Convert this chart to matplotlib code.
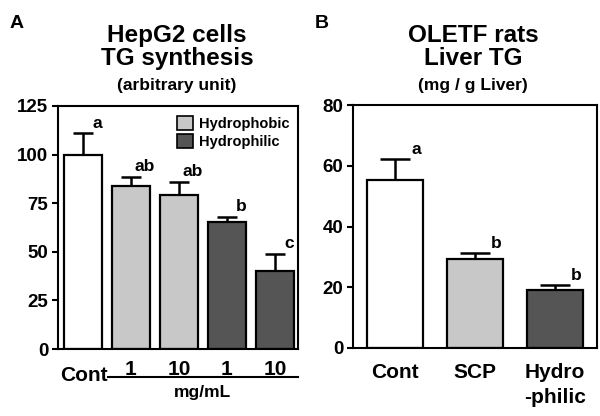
import matplotlib.pyplot as plt
import matplotlib.transforms as mtransforms
from matplotlib.patches import Patch

plt.rcParams.update({
    'font.family': ['Liberation Sans', 'DejaVu Sans'],
    'font.weight': 'bold',
    'axes.linewidth': 1.5,
})

# panel A: HepG2 TG synthesis
a_labels = ['', '1', '10', '1', '10']
a_values = [100, 84, 79, 65.5, 40]
a_err = [11, 4.5, 7, 2.5, 9]
a_letters = ['a', 'ab', 'ab', 'b', 'c']
a_colors = ['white', '#c8c8c8', '#c8c8c8', '#555555', '#555555']

# panel B: OLETF liver TG
b_labels = ['Cont', 'SCP', 'Hydro\n-philic']
b_values = [55.3, 29.4, 19.2]
b_err = [6.9, 1.8, 1.5]
b_letters = ['a', 'b', 'b']
b_colors = ['white', '#c8c8c8', '#555555']

W, H = 600, 416
fig = plt.figure(figsize=(6, 4.16), dpi=100)

def px(x, y):
    return x / W, 1 - y / H

ax1 = fig.add_axes([58 / W, (H - 349) / H, 240 / W, 243 / H])
ax2 = fig.add_axes([353 / W, (H - 348) / H, 244 / W, 243 / H])

def draw_bars(ax, values, err, colors, width, capsize, letters, dx):
    xs = list(range(len(values)))
    # symmetric error bars drawn behind the bars, so only the upper half shows
    ax.errorbar(xs, values, yerr=err, fmt='none', ecolor='black',
                elinewidth=1.8, capsize=capsize, capthick=1.8, zorder=1)
    ax.bar(xs, values, width=width, color=colors, edgecolor='black', linewidth=1.6, zorder=2)
    for x, v, e, t in zip(xs, values, err, letters):
        ax.annotate(t, (x, v + e), xytext=(dx, 4), textcoords='offset points',
                    ha='center', va='baseline', fontsize=12.5, fontweight='bold')
    ax.tick_params(axis='y', direction='out', length=4, width=1.5, labelsize=13.5, pad=3)
    ax.tick_params(axis='x', length=0, labelsize=15)

# panel A
draw_bars(ax1, a_values, a_err, a_colors, 0.8, 7.2, a_letters, 10)
ax1.set_xlim(-0.52, 4.48)
ax1.set_ylim(0, 125)
ax1.set_yticks([0, 25, 50, 75, 100, 125])
ax1.set_xticks(range(len(a_labels)))
ax1.set_xticklabels(a_labels, fontsize=15, fontweight='bold')
ax1.tick_params(axis='x', pad=8)
for lab in ax1.get_yticklabels():
    lab.set_fontweight('bold')

trans = mtransforms.blended_transform_factory(ax1.transData, ax1.transAxes)
ax1.text(0.52, -0.107, 'Cont', transform=trans, ha='right', va='center',
         fontsize=15, fontweight='bold')
ax1.plot([0.52, 4.48], [-0.115, -0.115], color='black', lw=1.5,
         transform=trans, clip_on=False)
ax1.text(2.5, -0.18, 'mg/mL', transform=trans, ha='center', va='center',
         fontsize=12.5, fontweight='bold')

handles = [Patch(facecolor='#c8c8c8', edgecolor='black', linewidth=1.2, label='Hydrophobic'),
           Patch(facecolor='#555555', edgecolor='black', linewidth=1.2, label='Hydrophilic')]
ax1.legend(handles=handles, loc='upper left', bbox_to_anchor=(0.455, 1.0), frameon=False,
           handlelength=1.1, handleheight=1.1, handletextpad=0.35, labelspacing=0.2,
           borderaxespad=0.3, prop={'size': 10.5, 'weight': 'bold'})

# panel B
draw_bars(ax2, b_values, b_err, b_colors, 0.7, 10.8, b_letters, 15)
ax2.set_xlim(-0.525, 2.525)
ax2.set_ylim(0, 80)
ax2.set_yticks([0, 20, 40, 60, 80])
ax2.set_xticks(range(len(b_labels)))
ax2.set_xticklabels(b_labels, fontsize=15, fontweight='bold', linespacing=1.4)
ax2.tick_params(axis='x', pad=11)
for lab in ax2.get_yticklabels():
    lab.set_fontweight('bold')

# titles
fig.text(*px(177, 42), 'HepG2 cells', ha='center', va='baseline', fontsize=17.5, fontweight='bold')
fig.text(*px(177, 65), 'TG synthesis', ha='center', va='baseline', fontsize=17.5, fontweight='bold')
fig.text(*px(177, 90), '(arbitrary unit)', ha='center', va='baseline', fontsize=12.5, fontweight='bold')
fig.text(*px(473, 42), 'OLETF rats', ha='center', va='baseline', fontsize=17.5, fontweight='bold')
fig.text(*px(473, 65), 'Liver TG', ha='center', va='baseline', fontsize=17.5, fontweight='bold')
fig.text(*px(473, 90), '(mg / g Liver)', ha='center', va='baseline', fontsize=12.5, fontweight='bold')

fig.text(*px(17, 23), 'A', ha='center', va='center', fontsize=14, fontweight='bold')
fig.text(*px(322, 23), 'B', ha='center', va='center', fontsize=14, fontweight='bold')

fig.savefig('out.png', dpi=100)
